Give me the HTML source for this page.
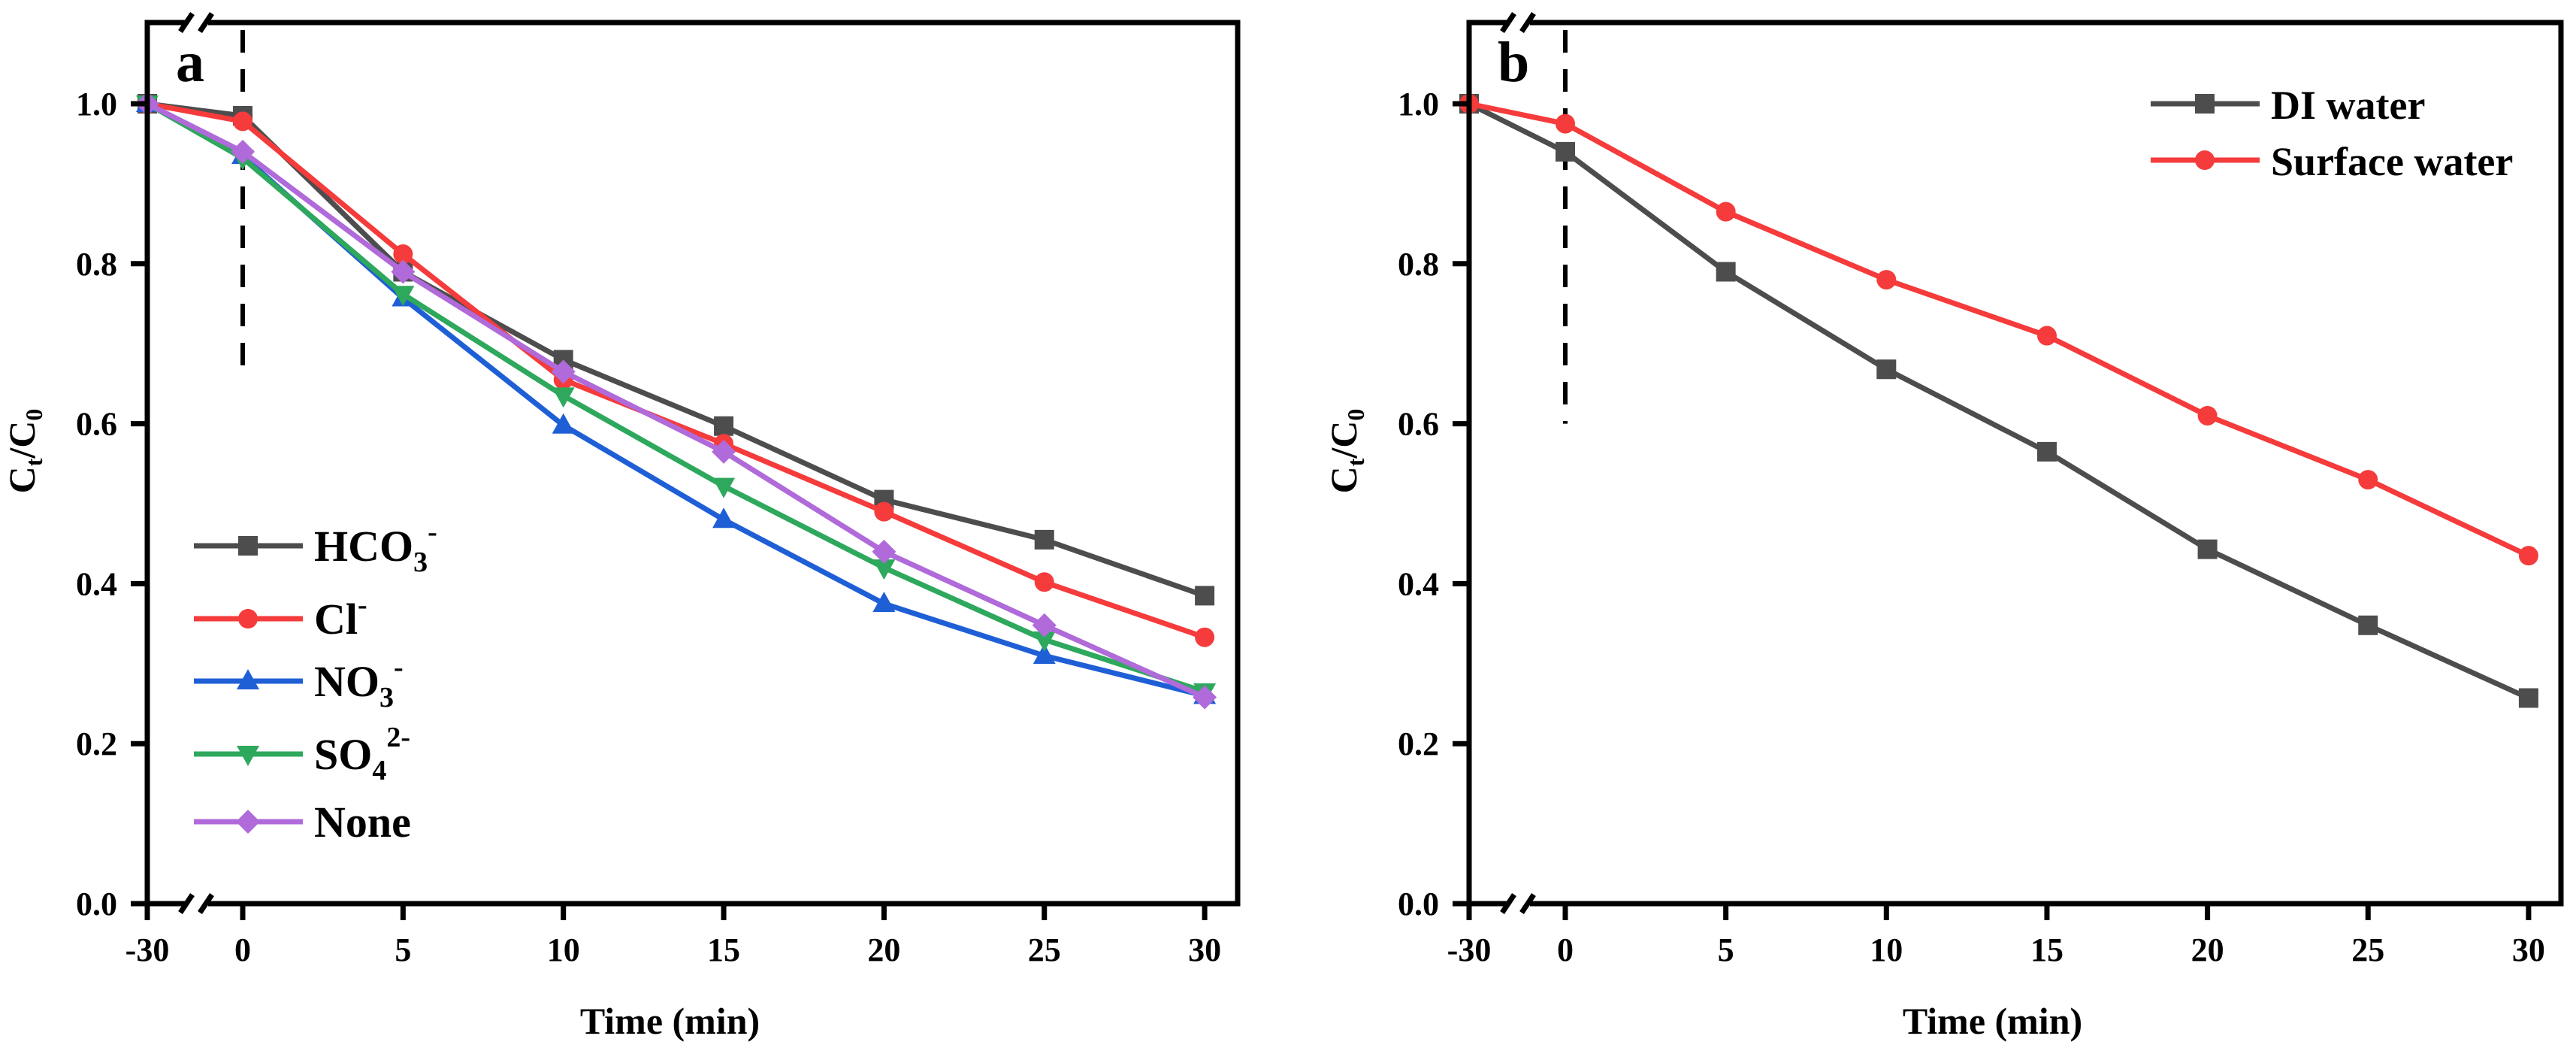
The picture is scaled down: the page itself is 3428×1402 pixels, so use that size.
<!DOCTYPE html>
<html><head><meta charset="utf-8"><style>
html,body{margin:0;padding:0;background:#fff}
svg{display:block}
text{font-family:"Liberation Serif",serif;font-weight:bold;fill:#000}
</style></head><body>
<svg id="chart" width="3428" height="1402" viewBox="0 0 3428 1402" xmlns="http://www.w3.org/2000/svg"></svg>
<script>
const times = [-30, 0, 5, 10, 15, 20, 25, 30];
const xTicks = [-30, 0, 5, 10, 15, 20, 25, 30];
const yTicks = [0.0, 0.2, 0.4, 0.6, 0.8, 1.0];
const hco3 = [1.0, 0.985, 0.79, 0.68, 0.597, 0.505, 0.455, 0.385];
const cl = [1.0, 0.978, 0.812, 0.655, 0.575, 0.49, 0.402, 0.333];
const no3 = [1.0, 0.935, 0.757, 0.598, 0.48, 0.375, 0.31, 0.26];
const so4 = [1.0, 0.932, 0.762, 0.635, 0.522, 0.42, 0.33, 0.265];
const none = [1.0, 0.94, 0.79, 0.665, 0.565, 0.44, 0.348, 0.258];
const diWater = [1.0, 0.94, 0.79, 0.668, 0.565, 0.443, 0.348, 0.257];
const surfaceWater = [1.0, 0.975, 0.865, 0.78, 0.71, 0.61, 0.53, 0.435];

const NS = "http://www.w3.org/2000/svg";
const svg = document.getElementById('chart');
function mk(tag, attrs, parent) {
  const e = document.createElementNS(NS, tag);
  for (const k in attrs) e.setAttribute(k, attrs[k]);
  (parent || svg).appendChild(e);
  return e;
}
function markerPath(shape, x, y) {
  const s = 13;
  if (shape === 'square') return `M${x-s},${y-s}h${2*s}v${2*s}h${-2*s}z`;
  if (shape === 'up') return `M${x},${y-s-3}L${x+s+2},${y+s-2}L${x-s-2},${y+s-2}z`;
  if (shape === 'down') return `M${x},${y+s+3}L${x+s+2},${y-s+2}L${x-s-2},${y-s+2}z`;
  if (shape === 'diamond') return `M${x},${y-s-3}L${x+s+3},${y}L${x},${y+s+3}L${x-s-3},${y}z`;
  return null;
}
function drawMarker(g, shape, x, y, color) {
  if (shape === 'circle') return mk('circle', {cx:x, cy:y, r:13, fill:color}, g);
  return mk('path', {d:markerPath(shape, x, y), fill:color}, g);
}

function panel(opt) {
  const g = mk('g', {});
  
  
  const L = opt.left, R = opt.right, T = 30, B = 1202, x0 = opt.x0, k = opt.k;
  const xs = t => t < 0 ? L : x0 + t * k;
  const ys = v => B - v * 1064;
  // vertical dashed line at t=0
  const dl = mk('line', {x1:xs(0), y1:T+10, x2:xs(0), y2:ys(opt.dashEnd), stroke:'#000', 'stroke-width':6, 'stroke-dasharray':'30,22'}, g);
  
  
  // series
  opt.series.forEach(s => {
    const sg = mk('g', {}, g);
    
    
    const pts = s.data.map((v, i) => xs(times[i]) + ',' + ys(v)).join(' ');
    mk('polyline', {points:pts, fill:'none', stroke:s.color, 'stroke-width':7, 'stroke-linejoin':'round'}, sg);
    s.data.forEach((v, i) => {
      const m = drawMarker(sg, s.shape, xs(times[i]), ys(v), s.color);
      
      
    });
  });
  // axes frame
  const fr = mk('rect', {x:L, y:T, width:R-L, height:B-T, fill:'none', stroke:'#000', 'stroke-width':7}, g);
  
  
  // axis break marks
  [T, B].forEach(yy => {
    const bx = L + 57;
    mk('rect', {x:bx-6, y:yy-6, width:30, height:12, fill:'#fff'}, g);
    mk('line', {x1:bx-13, y1:yy+12, x2:bx+3, y2:yy-12, stroke:'#000', 'stroke-width':7}, g);
    mk('line', {x1:bx+13, y1:yy+12, x2:bx+29, y2:yy-12, stroke:'#000', 'stroke-width':7}, g);
  });
  // y ticks
  yTicks.forEach(v => {
    mk('line', {x1:L-22, y1:ys(v), x2:L, y2:ys(v), stroke:'#000', 'stroke-width':7}, g);
    const t = mk('text', {x:L-40, y:ys(v)+15, 'font-size':44, 'text-anchor':'end'}, g);
    t.textContent = v.toFixed(1);
    
    
  });
  // x ticks
  xTicks.forEach(tv => {
    mk('line', {x1:xs(tv), y1:B, x2:xs(tv), y2:B+22, stroke:'#000', 'stroke-width':7}, g);
    const t = mk('text', {x:xs(tv), y:1278, 'font-size':44, 'text-anchor':'middle'}, g);
    t.textContent = String(tv);
    
    
  });
  const xt = mk('text', {x:(L+R)/2 - 30, y:1375, 'font-size':50, 'text-anchor':'middle'}, g);
  xt.textContent = 'Time (min)';
  
  
  const yt = mk('text', {transform:`translate(${L-150},600) rotate(-90)`, 'font-size':50, 'text-anchor':'middle'}, g);
  yt.innerHTML = 'C<tspan font-size="32" dy="10">t</tspan><tspan dy="-10">/C</tspan><tspan font-size="32" dy="10">0</tspan>';
  
  
  const pl = mk('text', {x:L+38, y:108, 'font-size':76}, g);
  pl.textContent = opt.label;
  
  
  // legend
  const lg = mk('g', {}, g);
  
  
  opt.series.forEach((s, i) => {
    const yy = opt.legY[i];
    const e = mk('g', {}, lg);
    
    
    mk('line', {x1:opt.legX, y1:yy, x2:opt.legX+145, y2:yy, stroke:s.color, 'stroke-width':7}, e);
    drawMarker(e, s.shape, opt.legX+72, yy, s.color);
    const t = mk('text', {x:opt.legX+160, y:yy+20, 'font-size':opt.legFont}, e);
    t.innerHTML = s.label;
  });
}

panel({name:'panel-a', label:'a', left:196, right:1647, x0:323, k:42.67, dashEnd:0.66,
  legX:258, legY:[726, 823, 906, 1003, 1093], legFont:58,
  series:[
    {key:'hco3', color:'#4d4d4d', shape:'square', data:hco3, label:'HCO<tspan font-size="38" dy="14">3</tspan><tspan font-size="38" dy="-40">-</tspan>'},
    {key:'cl', color:'#f53b3b', shape:'circle', data:cl, label:'Cl<tspan font-size="38" dy="-26">-</tspan>'},
    {key:'no3', color:'#1f5fd6', shape:'up', data:no3, label:'NO<tspan font-size="38" dy="14">3</tspan><tspan font-size="38" dy="-40">-</tspan>'},
    {key:'so4', color:'#2ea85c', shape:'down', data:so4, label:'SO<tspan font-size="38" dy="14">4</tspan><tspan font-size="38" dy="-44">2-</tspan>'},
    {key:'none', color:'#b06ad9', shape:'diamond', data:none, label:'None'}
  ]});
panel({name:'panel-b', label:'b', left:1955, right:3408, x0:2083, k:42.73, dashEnd:0.6,
  legX:2862, legY:[138, 213], legFont:54,
  series:[
    {key:'di-water', color:'#4d4d4d', shape:'square', data:diWater, label:'DI water'},
    {key:'surface-water', color:'#f53b3b', shape:'circle', data:surfaceWater, label:'Surface water'}
  ]});
</script>
</body></html>
